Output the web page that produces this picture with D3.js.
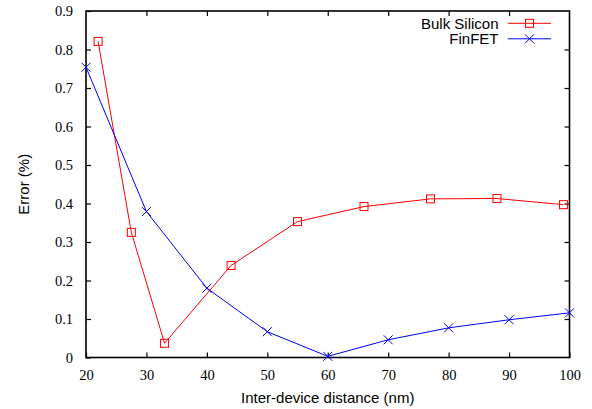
<!DOCTYPE html>
<html><head><meta charset="utf-8">
<script src="https://cdn.jsdelivr.net/npm/d3@7"></script>
<style>body{margin:0;background:#fff}svg{display:block}</style>
</head><body>
<script>
const bulkX = [22, 27.5, 33, 44, 55, 66, 77, 88, 99];
const bulkY = [0.821, 0.325, 0.037, 0.239, 0.353, 0.392, 0.412, 0.413, 0.397];
const finX = [20, 30, 40, 50, 60, 70, 80, 90, 100];
const finY = [0.754, 0.379, 0.18, 0.067, 0.003, 0.046, 0.077, 0.098, 0.116];
const xTicks = [20, 30, 40, 50, 60, 70, 80, 90, 100];
const yTicks = [0, 0.1, 0.2, 0.3, 0.4, 0.5, 0.6, 0.7, 0.8, 0.9];
const seriesNames = ["Bulk Silicon", "FinFET"];

const W = 592, H = 409;
const L = 86, R = 569.5, T = 11, B = 357.5;
const svg = d3.select("body").append("svg").attr("width", W).attr("height", H);
const x = d3.scaleLinear().domain([20, 100]).range([L, R]);
const y = d3.scaleLinear().domain([0, 0.9]).range([B, T]);
const serif = "Liberation Serif, Times New Roman, serif";
const sans = "Liberation Sans, Arial, sans-serif";

// axes with inward ticks (mirrored)
const tl = 5;
svg.append("g").attr("transform", `translate(0,${B})`)
  .call(d3.axisBottom(x).tickValues(xTicks).tickSize(-tl).tickPadding(12).tickFormat(d3.format("d")))
  .call(g => { g.attr("font-family", serif).attr("font-size", 14.5); g.select(".domain").remove(); g.selectAll("text").style("font-family", serif).attr("fill", "#000"); g.selectAll("line").attr("stroke-width", 1.2); });
svg.append("g").attr("transform", `translate(0,${T})`)
  .call(d3.axisTop(x).tickValues(xTicks.slice(1, -1)).tickSize(-tl).tickFormat(""))
  .call(g => { g.select(".domain").remove(); g.selectAll("line").attr("stroke-width", 1.2); });
svg.append("g").attr("transform", `translate(${L},0)`)
  .call(d3.axisLeft(y).tickValues(yTicks).tickSize(-tl).tickPadding(13).tickFormat(d => d === 0 ? "0" : d3.format(".1f")(d)))
  .call(g => { g.attr("font-family", serif).attr("font-size", 14.5); g.select(".domain").remove(); g.selectAll("text").style("font-family", serif).attr("fill", "#000"); g.selectAll("line").attr("stroke-width", 1.2); });
svg.append("g").attr("transform", `translate(${R},0)`)
  .call(d3.axisRight(y).tickValues(yTicks.slice(1, -1)).tickSize(-tl).tickFormat(""))
  .call(g => { g.select(".domain").remove(); g.selectAll("line").attr("stroke-width", 1.2); });

svg.append("rect").attr("x", L).attr("y", T).attr("width", R - L).attr("height", B - T)
  .attr("fill", "none").attr("stroke", "#000").attr("stroke-width", 1.6);

const line = d3.line().x(d => x(d[0])).y(d => y(d[1]));
const bulk = bulkX.map((v, i) => [v, bulkY[i]]);
const fin = finX.map((v, i) => [v, finY[i]]);

function square(g, cx, cy) {
  g.append("rect").attr("x", cx - 4).attr("y", cy - 4).attr("width", 8).attr("height", 8)
    .attr("fill", "none").attr("stroke", "#ff0000").attr("stroke-width", 1);
}
function cross(g, cx, cy) {
  const s = 4.5;
  g.append("path").attr("d", `M${cx - s},${cy - s}L${cx + s},${cy + s}M${cx - s},${cy + s}L${cx + s},${cy - s}`)
    .attr("stroke", "#0000ff").attr("stroke-width", 1).attr("fill", "none");
}

svg.append("path").datum(bulk).attr("d", line).attr("fill", "none").attr("stroke", "#ff0000").attr("stroke-width", 1);
svg.append("path").datum(fin).attr("d", line).attr("fill", "none").attr("stroke", "#0000ff").attr("stroke-width", 1);
const mg = svg.append("g");
bulk.forEach(d => square(mg, x(d[0]), y(d[1])));
fin.forEach(d => cross(mg, x(d[0]), y(d[1])));

// legend
const lg = svg.append("g");
const colors = ["#ff0000", "#0000ff"];
seriesNames.forEach((n, i) => {
  const ly = 23.3 + i * 15.5;
  lg.append("text").attr("x", 498.5).attr("y", ly + 5.2).attr("text-anchor", "end")
    .attr("font-family", sans).attr("font-size", 15).text(n);
  lg.append("line").attr("x1", 508).attr("x2", 551).attr("y1", ly).attr("y2", ly)
    .attr("stroke", colors[i]).attr("stroke-width", 1);
  if (i === 0) square(lg, 529.5, ly); else cross(lg, 529.5, ly);
});

// axis labels
svg.append("text").attr("x", (L + R) / 2).attr("y", 402.5).attr("text-anchor", "middle")
  .attr("font-family", sans).attr("font-size", 15).text("Inter-device distance (nm)");
svg.append("text").attr("transform", `translate(29,${(T + B) / 2}) rotate(-90)`).attr("text-anchor", "middle")
  .attr("font-family", sans).attr("font-size", 15).text("Error (%)");
</script>
</body></html>
